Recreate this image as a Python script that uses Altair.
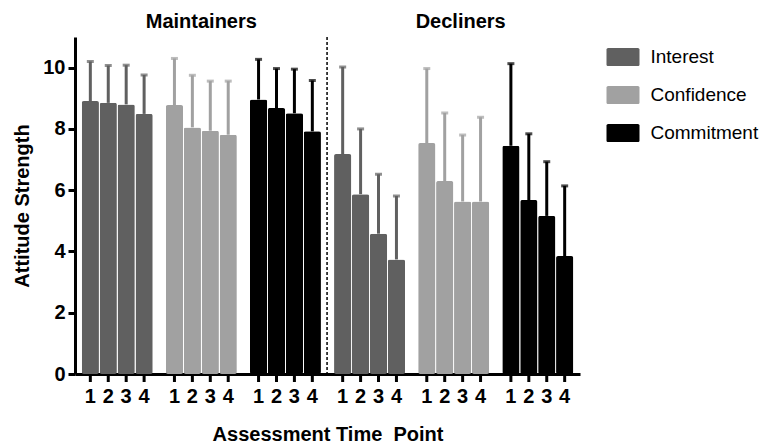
import altair as alt
import pandas as pd

# ---- data ----
panels = ["Maintainers", "Decliners"]
attributes = ["Interest", "Confidence", "Commitment"]
time_points = ["1", "2", "3", "4"]

interest_maint = [8.91, 8.85, 8.80, 8.49]
confidence_maint = [8.78, 8.05, 7.94, 7.81]
commitment_maint = [8.96, 8.68, 8.51, 7.92]
interest_decl = [7.18, 5.87, 4.58, 3.74]
confidence_decl = [7.54, 6.30, 5.63, 5.63]
commitment_decl = [7.45, 5.68, 5.16, 3.85]

interest_maint_sd = [1.29, 1.22, 1.28, 1.27]
confidence_maint_sd = [1.52, 1.70, 1.62, 1.75]
commitment_maint_sd = [1.31, 1.29, 1.44, 1.66]
interest_decl_sd = [2.84, 2.13, 1.94, 2.07]
confidence_decl_sd = [2.43, 2.22, 2.17, 2.75]
commitment_decl_sd = [2.68, 2.16, 1.77, 2.29]

colors = ["#606060", "#a1a1a1", "#000000"]

series = {
    ("Maintainers", "Interest"): (interest_maint, interest_maint_sd),
    ("Maintainers", "Confidence"): (confidence_maint, confidence_maint_sd),
    ("Maintainers", "Commitment"): (commitment_maint, commitment_maint_sd),
    ("Decliners", "Interest"): (interest_decl, interest_decl_sd),
    ("Decliners", "Confidence"): (confidence_decl, confidence_decl_sd),
    ("Decliners", "Commitment"): (commitment_decl, commitment_decl_sd),
}

groups = [f"{p}-{a}" for p in panels for a in attributes]
rows = []
for p in panels:
    for a in attributes:
        means, sds = series[(p, a)]
        for t, m, s in zip(time_points, means, sds):
            rows.append({"group": f"{p}-{a}", "attr": a, "time": t,
                         "mean": m, "top": m + s})
df = pd.DataFrame(rows)

W, H = 505, 337
FONT = "Liberation Sans"

xscale = alt.Scale(domain=groups, paddingInner=0.156, paddingOuter=0.08)
xenc = alt.X("group:N", scale=xscale,
             axis=alt.Axis(labels=False, ticks=False, domain=True, domainWidth=3,
                           domainColor="black", grid=False,
                           title="Assessment Time\u00a0 Point", titleFontSize=20,
                           titleFontWeight="bold", titleColor="black",
                           titlePadding=50))
xoff = alt.XOffset("time:O", scale=alt.Scale(paddingInner=0.04, paddingOuter=0))
yscale = alt.Scale(domain=[0, 11], nice=False)
cscale = alt.Scale(domain=attributes, range=colors)

rect_path = ("M-0.9,-0.55H0.9A0.1,0.1,0,0,1,1,-0.45V0.45A0.1,0.1,0,0,1,0.9,0.55"
             "H-0.9A0.1,0.1,0,0,1,-1,0.45V-0.45A0.1,0.1,0,0,1,-0.9,-0.55Z")

base = alt.Chart(df)

bars = base.mark_bar(cornerRadius=2).encode(
    x=xenc, xOffset=xoff,
    y=alt.Y("mean:Q", scale=yscale,
            axis=alt.Axis(values=[0, 2, 4, 6, 8, 10], domainWidth=3, domainColor="black",
                          tickWidth=3, tickSize=7, tickColor="black",
                          labelFontSize=20, labelFontWeight="bold", labelColor="black",
                          labelPadding=3, grid=False,
                          title="Attitude Strength", titleFontSize=20,
                          titleFontWeight="bold", titleColor="black", titlePadding=10)),
    color=alt.Color("attr:N", scale=cscale,
                    legend=alt.Legend(title=None, orient="none", legendX=531.5, legendY=3.5,
                                      symbolType=rect_path, symbolSize=1089,
                                      symbolStrokeWidth=0, symbolOpacity=1,
                                      labelFontSize=19, labelFont=FONT, labelColor="black",
                                      labelLimit=0, labelOffset=11, rowPadding=11,
                                      padding=0)),
)

stems = base.mark_rule(strokeWidth=3).encode(
    x=xenc, xOffset=xoff,
    y=alt.Y("mean:Q", scale=yscale), y2="top:Q",
    color=alt.Color("attr:N", scale=cscale, legend=None),
)

caps = base.mark_tick(thickness=3, size=7).encode(
    x=xenc, xOffset=xoff,
    y=alt.Y("top:Q", scale=yscale),
    color=alt.Color("attr:N", scale=cscale, legend=None),
)

xticks = base.mark_rule(strokeWidth=3, color="black").encode(
    x=xenc, xOffset=xoff, y=alt.value(H), y2=alt.value(H + 8),
)

xlabels = base.mark_text(fontSize=20, fontWeight="bold", baseline="middle",
                         color="black").encode(
    x=xenc, xOffset=xoff, y=alt.value(H + 23), text="time:O",
)

div_df = pd.DataFrame({"group": ["Decliners-Interest"]})
divider = alt.Chart(div_df).mark_rule(strokeDash=[3, 2], strokeWidth=1.5,
                                      color="black").encode(
    x=alt.X("group:N", bandPosition=0, scale=xscale),
    xOffset=alt.value(-7),
    y=alt.value(0), y2=alt.value(H),
)

t1 = alt.Chart(pd.DataFrame({"group": ["Maintainers-Confidence"], "label": ["Maintainers"]})) \
    .mark_text(fontSize=20, fontWeight="bold", baseline="middle", color="black").encode(
        x=alt.X("group:N", scale=xscale), y=alt.value(-15), text="label:N")
t2 = alt.Chart(pd.DataFrame({"group": ["Decliners-Confidence"], "label": ["Decliners"]})) \
    .mark_text(fontSize=20, fontWeight="bold", baseline="middle", color="black", dx=7).encode(
        x=alt.X("group:N", scale=xscale), y=alt.value(-15), text="label:N")

chart = alt.layer(bars, stems, caps, xticks, xlabels, divider, t1, t2).properties(
    width=W, height=H,
    padding={"left": 67, "top": 29, "right": 180, "bottom": 80},
    autosize=alt.AutoSizeParams(type="none"),
).configure(font=FONT).configure_view(stroke=None)

chart.save("out.html", embed_options={"renderer": "svg", "actions": False})
